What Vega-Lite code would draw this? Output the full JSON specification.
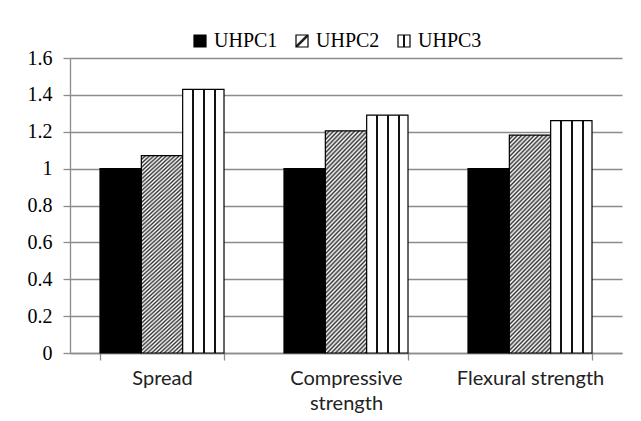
{
  "$schema": "https://vega.github.io/schema/vega-lite/v6.json",
  "width": 552,
  "height": 295,
  "autosize": {"type": "none"},
  "padding": {"left": 70, "top": 58, "right": 19, "bottom": 68},
  "background": "white",
  "config": {"view": {"stroke": null}},
  "data": {
    "values": [
      {"category": "Spread", "series": "UHPC1", "value": 1.0},
      {"category": "Spread", "series": "UHPC2", "value": 1.07},
      {"category": "Spread", "series": "UHPC3", "value": 1.43},
      {"category": "Compressive strength", "series": "UHPC1", "value": 1.0},
      {"category": "Compressive strength", "series": "UHPC2", "value": 1.205},
      {"category": "Compressive strength", "series": "UHPC3", "value": 1.29},
      {"category": "Flexural strength", "series": "UHPC1", "value": 1.0},
      {"category": "Flexural strength", "series": "UHPC2", "value": 1.182},
      {"category": "Flexural strength", "series": "UHPC3", "value": 1.26}
    ]
  },
  "mark": {"type": "bar", "strokeWidth": 1.2},
  "encoding": {
    "x": {
      "field": "category",
      "type": "nominal",
      "sort": ["Spread", "Compressive strength", "Flexural strength"],
      "scale": {"paddingInner": 0.326, "paddingOuter": 0.163},
      "axis": {
        "title": null,
        "labelAngle": 0,
        "labelFont": "Lato",
        "labelFontSize": 20,
        "labelColor": "#222222",
        "labelLineHeight": 25,
        "labelPadding": 8,
        "labelExpr": "datum.label == 'Compressive strength' ? ['Compressive', 'strength'] : datum.label",
        "tickBand": "extent",
        "tickSize": 7,
        "tickColor": "#8c8c8c",
        "tickWidth": 1.3,
        "domainColor": "#8c8c8c",
        "domainWidth": 1.3,
        "grid": false
      }
    },
    "xOffset": {
      "field": "series",
      "type": "nominal",
      "scale": {"paddingInner": 0, "paddingOuter": 0}
    },
    "y": {
      "field": "value",
      "type": "quantitative",
      "scale": {"domain": [0, 1.6]},
      "axis": {
        "title": null,
        "values": [0, 0.2, 0.4, 0.6, 0.8, 1, 1.2, 1.4, 1.6],
        "format": "~g",
        "labelFont": "Liberation Serif",
        "labelFontSize": 20,
        "labelColor": "black",
        "labelPadding": 11,
        "tickSize": 7,
        "tickColor": "#8c8c8c",
        "tickWidth": 1.3,
        "domainColor": "#8c8c8c",
        "domainWidth": 1.3,
        "gridColor": "#8c8c8c",
        "gridWidth": 1.3
      }
    },
    "stroke": {
      "field": "series",
      "type": "nominal",
      "scale": {"domain": ["UHPC1", "UHPC2", "UHPC3"], "range": ["black", "black", "black"]},
      "legend": {
        "title": null,
        "orient": "none",
        "legendX": 120,
        "legendY": -27,
        "direction": "horizontal",
        "padding": 0,
        "symbolType": "square",
        "symbolSize": 144,
        "symbolStrokeWidth": 1.2,
        "labelFont": "Liberation Serif",
        "labelFontSize": 20,
        "labelColor": "black",
        "labelOffset": 4,
        "columnPadding": 14,
        "encoding": {
          "symbols": {
            "fill": {
              "condition": [
                {"test": "datum.value === 'UHPC1'", "value": "black"},
                {
                  "test": "datum.value === 'UHPC2'",
                  "value": {
                    "gradient": "linear",
                    "x1": 0, "y1": 0, "x2": 1, "y2": 1,
                    "stops": [
                      {"offset": 0, "color": "#ffffff"},
                      {"offset": 0.4, "color": "#ffffff"},
                      {"offset": 0.45, "color": "#222222"},
                      {"offset": 0.55, "color": "#222222"},
                      {"offset": 0.6, "color": "#ffffff"},
                      {"offset": 1, "color": "#ffffff"}
                    ]
                  }
                }
              ],
              "value": {
                "gradient": "linear",
                "x1": 0, "y1": 0, "x2": 1, "y2": 0,
                "stops": [
                  {"offset": 0, "color": "#ffffff"},
                  {"offset": 0.4, "color": "#ffffff"},
                  {"offset": 0.42, "color": "#111111"},
                  {"offset": 0.58, "color": "#111111"},
                  {"offset": 0.6, "color": "#ffffff"},
                  {"offset": 1, "color": "#ffffff"}
                ]
              }
            }
          }
        }
      }
    },
    "fill": {
      "condition": [
        {"test": "datum.series === 'UHPC1'", "value": "black"},
        {
          "test": "datum.series === 'UHPC2'",
          "value": {
            "gradient": "linear",
            "x1": 0, "y1": 0, "x2": 0.2304, "y2": 1.191,
            "stops": [
              {"offset": 0, "color": "#333333"}, {"offset": 0.008, "color": "#ffffff"},
              {"offset": 0.016, "color": "#333333"}, {"offset": 0.024, "color": "#ffffff"},
              {"offset": 0.032, "color": "#333333"}, {"offset": 0.04, "color": "#ffffff"},
              {"offset": 0.048, "color": "#333333"}, {"offset": 0.056, "color": "#ffffff"},
              {"offset": 0.064, "color": "#333333"}, {"offset": 0.072, "color": "#ffffff"},
              {"offset": 0.08, "color": "#333333"}, {"offset": 0.088, "color": "#ffffff"},
              {"offset": 0.096, "color": "#333333"}, {"offset": 0.104, "color": "#ffffff"},
              {"offset": 0.112, "color": "#333333"}, {"offset": 0.12, "color": "#ffffff"},
              {"offset": 0.128, "color": "#333333"}, {"offset": 0.136, "color": "#ffffff"},
              {"offset": 0.144, "color": "#333333"}, {"offset": 0.152, "color": "#ffffff"},
              {"offset": 0.16, "color": "#333333"}, {"offset": 0.168, "color": "#ffffff"},
              {"offset": 0.176, "color": "#333333"}, {"offset": 0.184, "color": "#ffffff"},
              {"offset": 0.192, "color": "#333333"}, {"offset": 0.2, "color": "#ffffff"},
              {"offset": 0.208, "color": "#333333"}, {"offset": 0.216, "color": "#ffffff"},
              {"offset": 0.224, "color": "#333333"}, {"offset": 0.232, "color": "#ffffff"},
              {"offset": 0.24, "color": "#333333"}, {"offset": 0.248, "color": "#ffffff"},
              {"offset": 0.256, "color": "#333333"}, {"offset": 0.264, "color": "#ffffff"},
              {"offset": 0.272, "color": "#333333"}, {"offset": 0.28, "color": "#ffffff"},
              {"offset": 0.288, "color": "#333333"}, {"offset": 0.296, "color": "#ffffff"},
              {"offset": 0.304, "color": "#333333"}, {"offset": 0.312, "color": "#ffffff"},
              {"offset": 0.32, "color": "#333333"}, {"offset": 0.328, "color": "#ffffff"},
              {"offset": 0.336, "color": "#333333"}, {"offset": 0.344, "color": "#ffffff"},
              {"offset": 0.352, "color": "#333333"}, {"offset": 0.36, "color": "#ffffff"},
              {"offset": 0.368, "color": "#333333"}, {"offset": 0.376, "color": "#ffffff"},
              {"offset": 0.384, "color": "#333333"}, {"offset": 0.392, "color": "#ffffff"},
              {"offset": 0.4, "color": "#333333"}, {"offset": 0.408, "color": "#ffffff"},
              {"offset": 0.416, "color": "#333333"}, {"offset": 0.424, "color": "#ffffff"},
              {"offset": 0.432, "color": "#333333"}, {"offset": 0.44, "color": "#ffffff"},
              {"offset": 0.448, "color": "#333333"}, {"offset": 0.456, "color": "#ffffff"},
              {"offset": 0.464, "color": "#333333"}, {"offset": 0.472, "color": "#ffffff"},
              {"offset": 0.48, "color": "#333333"}, {"offset": 0.488, "color": "#ffffff"},
              {"offset": 0.496, "color": "#333333"}, {"offset": 0.504, "color": "#ffffff"},
              {"offset": 0.512, "color": "#333333"}, {"offset": 0.52, "color": "#ffffff"},
              {"offset": 0.528, "color": "#333333"}, {"offset": 0.536, "color": "#ffffff"},
              {"offset": 0.544, "color": "#333333"}, {"offset": 0.552, "color": "#ffffff"},
              {"offset": 0.56, "color": "#333333"}, {"offset": 0.568, "color": "#ffffff"},
              {"offset": 0.576, "color": "#333333"}, {"offset": 0.584, "color": "#ffffff"},
              {"offset": 0.592, "color": "#333333"}, {"offset": 0.6, "color": "#ffffff"},
              {"offset": 0.608, "color": "#333333"}, {"offset": 0.616, "color": "#ffffff"},
              {"offset": 0.624, "color": "#333333"}, {"offset": 0.632, "color": "#ffffff"},
              {"offset": 0.64, "color": "#333333"}, {"offset": 0.648, "color": "#ffffff"},
              {"offset": 0.656, "color": "#333333"}, {"offset": 0.664, "color": "#ffffff"},
              {"offset": 0.672, "color": "#333333"}, {"offset": 0.68, "color": "#ffffff"},
              {"offset": 0.688, "color": "#333333"}, {"offset": 0.696, "color": "#ffffff"},
              {"offset": 0.704, "color": "#333333"}, {"offset": 0.712, "color": "#ffffff"},
              {"offset": 0.72, "color": "#333333"}, {"offset": 0.728, "color": "#ffffff"},
              {"offset": 0.736, "color": "#333333"}, {"offset": 0.744, "color": "#ffffff"},
              {"offset": 0.752, "color": "#333333"}, {"offset": 0.76, "color": "#ffffff"},
              {"offset": 0.768, "color": "#333333"}, {"offset": 0.776, "color": "#ffffff"},
              {"offset": 0.784, "color": "#333333"}, {"offset": 0.792, "color": "#ffffff"},
              {"offset": 0.8, "color": "#333333"}, {"offset": 0.808, "color": "#ffffff"},
              {"offset": 0.816, "color": "#333333"}, {"offset": 0.824, "color": "#ffffff"},
              {"offset": 0.832, "color": "#333333"}, {"offset": 0.84, "color": "#ffffff"},
              {"offset": 0.848, "color": "#333333"}, {"offset": 0.856, "color": "#ffffff"},
              {"offset": 0.864, "color": "#333333"}, {"offset": 0.872, "color": "#ffffff"},
              {"offset": 0.88, "color": "#333333"}, {"offset": 0.888, "color": "#ffffff"},
              {"offset": 0.896, "color": "#333333"}, {"offset": 0.904, "color": "#ffffff"},
              {"offset": 0.912, "color": "#333333"}, {"offset": 0.92, "color": "#ffffff"},
              {"offset": 0.928, "color": "#333333"}, {"offset": 0.936, "color": "#ffffff"},
              {"offset": 0.944, "color": "#333333"}, {"offset": 0.952, "color": "#ffffff"},
              {"offset": 0.96, "color": "#333333"}, {"offset": 0.968, "color": "#ffffff"},
              {"offset": 0.976, "color": "#333333"}, {"offset": 0.984, "color": "#ffffff"},
              {"offset": 0.992, "color": "#333333"}, {"offset": 1, "color": "#ffffff"}
            ]
          }
        }
      ],
      "value": {
        "gradient": "linear",
        "x1": 0, "y1": 0, "x2": 1, "y2": 0,
        "stops": [
          {"offset": 0, "color": "#ffffff"},
          {"offset": 0.23, "color": "#ffffff"},
          {"offset": 0.235, "color": "#111111"},
          {"offset": 0.275, "color": "#111111"},
          {"offset": 0.28, "color": "#ffffff"},
          {"offset": 0.49, "color": "#ffffff"},
          {"offset": 0.495, "color": "#111111"},
          {"offset": 0.535, "color": "#111111"},
          {"offset": 0.54, "color": "#ffffff"},
          {"offset": 0.75, "color": "#ffffff"},
          {"offset": 0.755, "color": "#111111"},
          {"offset": 0.795, "color": "#111111"},
          {"offset": 0.8, "color": "#ffffff"},
          {"offset": 1, "color": "#ffffff"}
        ]
      }
    }
  }
}
